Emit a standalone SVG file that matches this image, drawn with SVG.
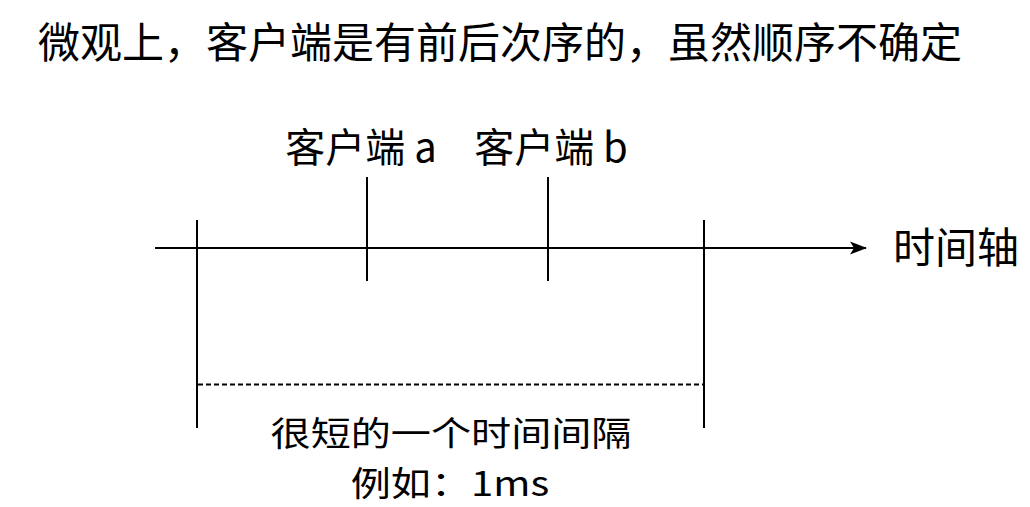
<svg xmlns="http://www.w3.org/2000/svg" width="1030" height="507" viewBox="0 0 1030 507">
<style>
text{font-family:"Noto Sans CJK SC","Noto Sans",sans-serif;fill:#000}
.t{font-size:40px}
.s{font-size:34px}
.ln{stroke:#000;stroke-width:2;fill:none}
</style>
<defs>
<marker id="arr" markerWidth="17" markerHeight="14" refX="16" refY="7" orient="auto" markerUnits="userSpaceOnUse">
<path d="M0,0.5 L17,7 L0,13.5 L4,7 Z" fill="#000"/>
</marker>
</defs>
<rect width="1030" height="507" fill="#fff"/>
<text id="title" x="38" y="58" style="font-size:42px">微观上，客户端是有前后次序的，虽然顺序不确定</text>
<g id="connectors">
<line class="ln" x1="155" y1="248" x2="866" y2="248" stroke-width="2.5" marker-end="url(#arr)"/>
<line class="ln" x1="197" y1="220" x2="197" y2="428" stroke-width="1.6"/>
<line class="ln" x1="704" y1="220" x2="704" y2="428" stroke-width="1.6"/>
<line class="ln" x1="198" y1="384.5" x2="703" y2="384.5" stroke-width="1" stroke-dasharray="5,3"/>
</g>
<g id="client-a">
<line class="ln" x1="367" y1="177" x2="367" y2="281"/>
<text class="t" x="361" y="162" text-anchor="middle">客户端 a</text>
</g>
<g id="client-b">
<line class="ln" x1="548" y1="177" x2="548" y2="281"/>
<text class="t" x="551" y="162" text-anchor="middle">客户端 b</text>
</g>
<g id="axis-label">
<text class="t" x="893" y="263" style="font-size:42px">时间轴</text>
</g>
<g id="interval">
<text class="s" transform="translate(451,446) scale(1.18,1)" text-anchor="middle">很短的一个时间间隔</text>
<text class="s" transform="translate(450,496) scale(1.18,1)" text-anchor="middle">例如：1ms</text>
</g>
</svg>
